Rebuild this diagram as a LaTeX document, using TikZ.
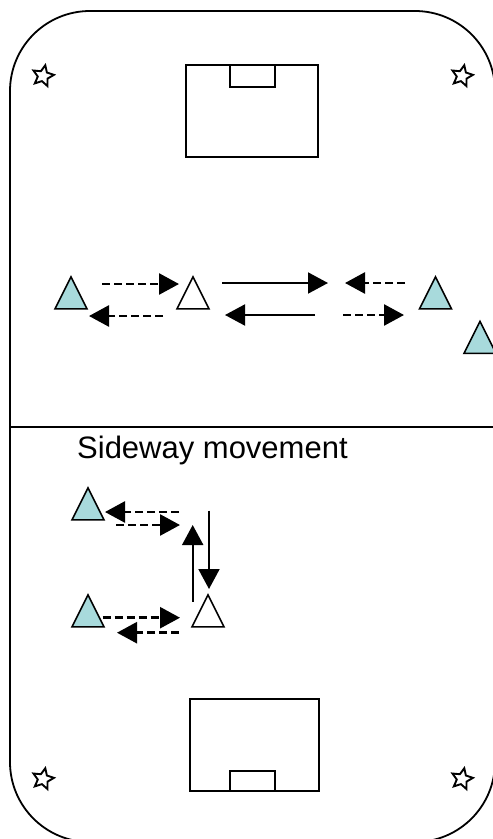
\documentclass[tikz,border=0pt]{standalone}
\usepackage{fontspec}
\setmainfont{Liberation Sans}
\usepackage{tikz}
\usetikzlibrary{arrows.meta, positioning, shapes, shapes.geometric}
\definecolor{FieldTeal}{RGB}{168, 218, 220}
\tikzset{every path/.style={line join=miter}}

\begin{document}
\begin{tikzpicture}[
    x=1pt, y=-1pt,
    pitchline/.style={draw=black, line width=1.8pt},
    player/.style={
        isosceles triangle,
        isosceles triangle stretches,
        shape border rotate=90,
        draw=black,
        line width=1.6pt,
        minimum width=32pt,
        minimum height=32pt,
        inner sep=0pt
    },
    teal/.style={player, fill=FieldTeal},
    coach/.style={player, fill=white},
    cone/.style={
        star,
        star points=5,
        star point ratio=2.1,
        draw=black,
        line width=1.9pt,
        minimum size=22pt,
        inner sep=0pt,
        rotate=-12
    },
    run/.style={-{Triangle[length=20pt, width=21pt]}, line width=2pt},
    pass/.style={run, line width=2.6pt, dash pattern=on 8pt off 4pt}
]
\useasboundingbox (0,0) rectangle (493,839);

% pitch
\draw[pitchline, rounded corners=80pt] (10,11) rectangle (495,842);
\draw[pitchline] (10,427) -- (495,427);

\draw[pitchline, line width=1.6pt] (186,65) rectangle (318,157);
\draw[pitchline, line width=1.6pt] (230,65) rectangle (275,87);
\draw[pitchline, line width=1.6pt] (190,699) rectangle (319,791);
\draw[pitchline, line width=1.6pt] (230,771) rectangle (275,791);

\node[cone] (coneTL) at (43,76) {};
\node[cone] (coneTR) at (462,76) {};
\node[cone] (coneBL) at (43,779) {};
\node[cone] (coneBR) at (462,779) {};

% top drill
\node[teal] (left) at (71,299) {};
\node[coach] (middle) at (193,299) {};
\node[teal] (right) at (435.5,299) {};
\node[teal] (spare) at (480,343.5) {};

\draw[pass] ([shift={(31,-15)}]left.center) -- ++(77,0);
\draw[pass] ([shift={(-30,17)}]middle.center) -- ++(-74,0);
\draw[run] ([shift={(29,-16)}]middle.center) -- ++(106,0);
\draw[run] ([shift={(-120.5,16)}]right.center) -- ++(-90,0);
\draw[pass] ([shift={(-30.5,-16)}]right.center) -- ++(-60,0);
\draw[pass] ([shift={(-92.5,16)}]right.center) -- ++(61,0);

% sideway movement
\node[anchor=base west, font=\fontsize{31}{37}\selectfont, inner sep=0pt] (title) at (77,458) {Sideway movement};

\node[teal] (upper) at (88,510) {};
\node[teal] (lower) at (88,617) {};
\node[coach] (mover) at (208,617) {};

\draw[pass] ([shift={(91,2)}]upper.center) -- ++(-74,0);
\draw[pass] ([shift={(28,15)}]upper.center) -- ++(64,0);
\draw[run] ([shift={(-15.3,-15.3)}]mover.center) -- ++(0,-76.7);
\draw[run] ([shift={(1,-106.3)}]mover.center) -- ++(0,78.3);
\draw[pass] ([shift={(14.7,0.7)}]lower.center) -- ++(77.3,0);
\draw[pass] ([shift={(-29,15.7)}]mover.center) -- ++(-62,0);

\end{tikzpicture}
\end{document}
